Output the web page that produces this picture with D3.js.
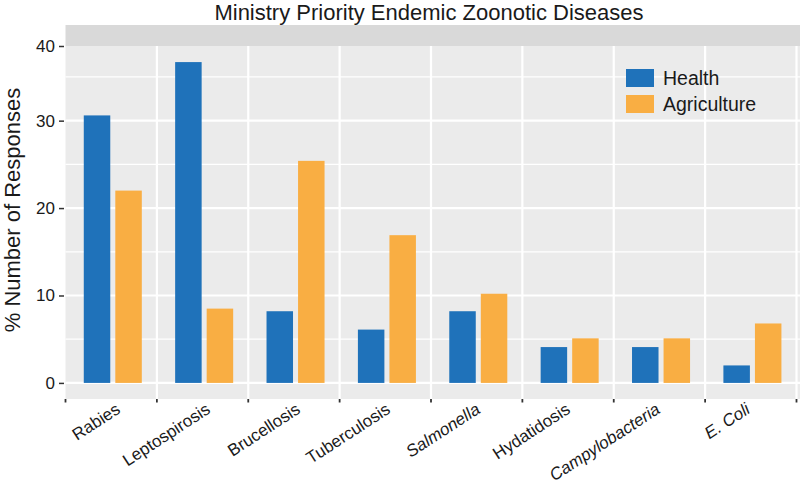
<!DOCTYPE html>
<html>
<head>
<meta charset="utf-8">
<script src="https://cdn.jsdelivr.net/npm/d3@7"></script>
<style>
  body { margin: 0; background: #fff; }
  text { font-family: "Liberation Sans", Arial, Helvetica, sans-serif; }
</style>
</head>
<body>
<div id="chart"></div>
<script>
var svgWidth = 800;
var svgHeight = 490;

// data
var diseases = ["Rabies", "Leptospirosis", "Brucellosis", "Tuberculosis",
  "Salmonella", "Hydatidosis", "Campylobacteria", "E. Coli"];
var italicNames = ["Salmonella", "Campylobacteria", "E. Coli"];
var series = ["Health", "Agriculture"];
var health = [30.6, 36.7, 8.2, 6.1, 8.2, 4.1, 4.1, 2.0];
var agriculture = [22.0, 8.5, 25.4, 16.9, 10.2, 5.1, 5.1, 6.8];
var yTicks = [0, 10, 20, 30];
var yMinor = [5, 15, 25, 35];

var colors = { Health: "#1f72ba", Agriculture: "#f9ae43" };

var panel = { left: 65.5, right: 796.5, top: 46, bottom: 399 };

var svg = d3.select("#chart")
  .append("svg")
  .attr("width", svgWidth)
  .attr("height", svgHeight);

var x0 = d3.scaleBand()
  .domain(diseases)
  .range([panel.left, panel.right])
  .padding(0);

var bw = x0.bandwidth();

var x1 = d3.scaleBand()
  .domain(series)
  .range([bw * 0.2, bw * 0.835])
  .paddingInner(0.16);

// ggplot style expanded domain
var y = d3.scaleLinear()
  .domain([-1.84, 38.54])
  .range([panel.bottom, panel.top]);

// background strip and panel
svg.append("rect")
  .attr("x", panel.left)
  .attr("y", 25)
  .attr("width", svgWidth - panel.left)
  .attr("height", panel.top - 25)
  .attr("fill", "#d9d9d9");

svg.append("rect")
  .attr("x", panel.left)
  .attr("y", panel.top)
  .attr("width", svgWidth - panel.left)
  .attr("height", panel.bottom - panel.top)
  .attr("fill", "#ebebeb");

// grid
var grid = svg.append("g");
grid.selectAll("line.minor")
  .data(yMinor)
  .enter()
  .append("line")
  .attr("class", "minor")
  .attr("x1", panel.left).attr("x2", svgWidth)
  .attr("y1", function (d) { return y(d); })
  .attr("y2", function (d) { return y(d); })
  .attr("stroke", "#fff")
  .attr("stroke-width", 1.3);

grid.selectAll("line.major")
  .data(yTicks)
  .enter()
  .append("line")
  .attr("class", "major")
  .attr("x1", panel.left).attr("x2", svgWidth)
  .attr("y1", function (d) { return y(d); })
  .attr("y2", function (d) { return y(d); })
  .attr("stroke", "#fff")
  .attr("stroke-width", 2.2);

var xBreaks = diseases.slice(1).map(function (d) { return x0(d); }).concat([panel.right]);
grid.selectAll("line.vert")
  .data(xBreaks)
  .enter()
  .append("line")
  .attr("class", "vert")
  .attr("x1", function (d) { return d; })
  .attr("x2", function (d) { return d; })
  .attr("y1", panel.top).attr("y2", panel.bottom)
  .attr("stroke", "#fff")
  .attr("stroke-width", 2.2);

// bars
var groups = svg.selectAll("g.cat")
  .data(diseases)
  .enter()
  .append("g")
  .attr("class", "cat")
  .attr("transform", function (d) { return "translate(" + x0(d) + ",0)"; });

groups.selectAll("rect")
  .data(function (d, i) {
    return [
      { key: "Health", value: health[i] },
      { key: "Agriculture", value: agriculture[i] }
    ];
  })
  .enter()
  .append("rect")
  .attr("x", function (d) { return x1(d.key); })
  .attr("width", x1.bandwidth())
  .attr("y", function (d) { return y(d.value); })
  .attr("height", function (d) { return y(0) - y(d.value); })
  .attr("fill", function (d) { return colors[d.key]; });

// y axis (the top label sits on the panel edge, as in the original)
var yAxis = d3.axisLeft(y)
  .tickValues(yTicks.concat([y.domain()[1]]))
  .tickSize(5)
  .tickPadding(4)
  .tickFormat(function (d) { return d > 35 ? "40" : d; });

var yg = svg.append("g")
  .attr("transform", "translate(64,0)")
  .call(yAxis);
yg.select(".domain").remove();
yg.selectAll(".tick line").attr("stroke", "#333").attr("stroke-width", 1.5);
yg.selectAll(".tick text")
  .attr("fill", "#1a1a1a")
  .style("font-size", "17px")
  .style("font-family", "'Liberation Sans', Arial, sans-serif");

// x axis ticks at category edges
var xAxisG = svg.append("g");
xAxisG.selectAll("line")
  .data(diseases.map(function (d) { return x0(d); }).concat([panel.right]))
  .enter()
  .append("line")
  .attr("x1", function (d) { return d; })
  .attr("x2", function (d) { return d; })
  .attr("y1", panel.bottom).attr("y2", panel.bottom + 3.5)
  .attr("stroke", "#333")
  .attr("stroke-width", 1.8);

xAxisG.selectAll("text")
  .data(diseases)
  .enter()
  .append("text")
  .attr("transform", function (d, i) {
    return "translate(" + (x0(d) + bw / 2 + 3 - 1.4 * i) + "," + (panel.bottom + 2) + ") rotate(-33)";
  })
  .attr("dy", "0.78em")
  .attr("text-anchor", "end")
  .attr("fill", "#1a1a1a")
  .style("font-size", "17px")
  .style("font-style", function (d) { return italicNames.indexOf(d) >= 0 ? "italic" : "normal"; })
  .text(function (d) { return d; });

// titles
svg.append("text")
  .attr("x", 429)
  .attr("y", 19.5)
  .attr("text-anchor", "middle")
  .attr("fill", "#1a1a1a")
  .style("font-size", "22px")
  .text("Ministry Priority Endemic Zoonotic Diseases");

svg.append("text")
  .attr("transform", "rotate(-90)")
  .attr("x", -210)
  .attr("y", 20)
  .attr("text-anchor", "middle")
  .attr("fill", "#1a1a1a")
  .style("font-size", "22px")
  .text("% Number of Responses");

// legend
var legend = svg.append("g")
  .attr("transform", "translate(626,69)");

var items = legend.selectAll("g")
  .data(series)
  .enter()
  .append("g")
  .attr("transform", function (d, i) { return "translate(0," + (i * 26) + ")"; });

items.append("rect")
  .attr("width", 28)
  .attr("height", 18)
  .attr("fill", function (d) { return colors[d]; });

items.append("text")
  .attr("x", 37)
  .attr("y", 15.5)
  .attr("fill", "#1a1a1a")
  .style("font-size", "19.5px")
  .text(function (d) { return d; });
</script>
</body>
</html>
